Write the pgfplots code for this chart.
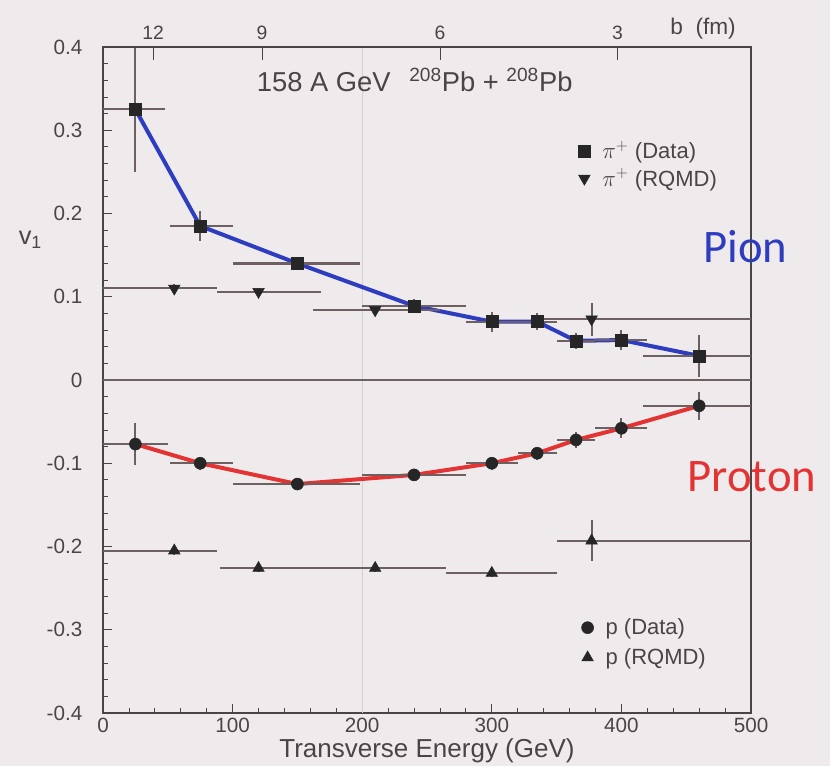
\documentclass[border=0pt]{standalone}
\usepackage{pgfplots}
\pgfplotsset{compat=1.18}
\usepackage{fontspec}
\setmainfont{Liberation Sans}
\newfontfamily\calib{Carlito}
\definecolor{bg}{HTML}{EFEBEC}
\definecolor{txt}{HTML}{4A4545}
\definecolor{ebar}{HTML}{6E6060}
\definecolor{pblue}{HTML}{2E3DC0}
\definecolor{pred}{HTML}{E33333}
\begin{document}
\begin{tikzpicture}
\useasboundingbox (-77.25pt,-39.75pt) rectangle (545.25pt,534.75pt);
\fill[bg] (-77.25pt,-39.75pt) rectangle (545.25pt,534.75pt);
\pgfplotsset{
  base/.style={
    scale only axis, width=486pt, height=499.5pt,
    xmin=0, xmax=500, ymin=-0.4, ymax=0.4, clip=false,
    /pgf/number format/assume math mode=true,
    tick label style={font=\fontsize{15.5}{17}\selectfont, text=txt},
    axis line style={txt, line width=0.9pt},
  },
  ebs/.style={error bars/.cd, x dir=both, x explicit, y dir=both, y explicit,
      error bar style={ebar, line width=1.6pt}, error mark=none},
}
% pion axis
\begin{axis}[base,
  xtick={0,100,...,500}, minor x tick num=4,
  ytick={-0.4,-0.3,...,0.41}, minor y tick num=4,
  yticklabels={-0.4,-0.3,-0.2,-0.1,0,0.1,0.2,0.3,0.4},
  major tick length=7pt, minor tick length=4pt,
  tick style={txt, line width=0.6pt},
  xtick pos=bottom, ytick pos=left,
  yticklabel style={anchor=east, xshift=-12pt},
  xlabel={Transverse Energy (GeV)},
  xlabel style={font=\fontsize{19.5}{21}\selectfont, text=txt, at={(rel axis cs:0.5,0)}, anchor=center, yshift=-28.5pt},
  legend style={draw=none, fill=none, at={(0.727,0.867)}, anchor=north west,
     font=\fontsize{16.5}{18}\selectfont, text=txt, row sep=2pt, column sep=7pt},
  legend cell align=left,
]
\draw[gray!35, line width=0.5pt] (axis cs:200,-0.4) -- (axis cs:200,0.4);
\draw[ebar, line width=2pt] (axis cs:0,0) -- (axis cs:500,0);
\addplot[pblue, line width=3pt, forget plot] coordinates {
(25,0.325) (75,0.185) (150,0.14) (240,0.089) (300,0.07) (335,0.07) (365,0.047) (400,0.048) (460,0.029)};
\addplot[only marks, mark=square*, mark size=4.5pt, black!85, ebs] coordinates {
(25,0.325) += (23,0.075) -= (25,0.075)
(75,0.185) += (25,0.018) -= (23,0.018)
(150,0.14) += (48,0.008) -= (50,0.008)
(240,0.089) += (40,0.008) -= (40,0.008)
(300,0.07) += (20,0.012) -= (20,0.012)
(335,0.07) += (15,0.01) -= (15,0.01)
(365,0.047) += (15,0.01) -= (15,0.01)
(400,0.048) += (20,0.012) -= (20,0.012)
(460,0.029) += (40,0.025) -= (43,0.025)
};
\addlegendentry{$\pi^{+}$ (Data)}
\addplot[only marks, mark=triangle*, mark options={rotate=180}, mark size=5pt, black!85, ebs] coordinates {
(55,0.11) += (33,0.005) -= (55,0.005)
(120,0.106) += (48,0.005) -= (32,0.005)
(210,0.084) += (50,0.006) -= (48,0.006)
(377,0.073) += (123,0.02) -= (37,0.02)
};
\addlegendentry{$\pi^{+}$ (RQMD)}
\node[text=txt, font=\fontsize{20.5}{22}\selectfont] at (rel axis cs:0.481,0.95) {158 A GeV\hspace{14pt}\textsuperscript{208}Pb + \textsuperscript{208}Pb};
\node[text=txt, font=\fontsize{19}{21}\selectfont] at (rel axis cs:-0.112,0.71) {v\textsubscript{1}};
\node[text=pblue, font=\calib\fontsize{35}{38}\selectfont] at (rel axis cs:0.991,0.70) {Pion};
\end{axis}
% proton axis
\begin{axis}[base, axis lines=none, 
  legend style={draw=none, fill=none, at={(0.732,0.15)}, anchor=north west,
     font=\fontsize{16.5}{18}\selectfont, text=txt, row sep=5pt, column sep=7pt},
  legend cell align=left,
]
\addplot[pred, line width=3pt, forget plot] coordinates {
(25,-0.077) (75,-0.1) (150,-0.125) (240,-0.114) (300,-0.1) (335,-0.088) (365,-0.072) (400,-0.058) (460,-0.031)};
\addplot[only marks, mark=*, mark size=4.5pt, black!85, ebs] coordinates {
(25,-0.077) += (25,0.025) -= (25,0.025)
(75,-0.1) += (25,0.008) -= (23,0.008)
(150,-0.125) += (48,0.006) -= (50,0.006)
(240,-0.114) += (40,0.006) -= (40,0.006)
(300,-0.1) += (20,0.008) -= (20,0.008)
(335,-0.088) += (15,0.008) -= (15,0.008)
(365,-0.072) += (15,0.01) -= (15,0.01)
(400,-0.058) += (20,0.012) -= (20,0.012)
(460,-0.031) += (40,0.017) -= (43,0.017)
};
\addlegendentry{p (Data)}
\addplot[only marks, mark=triangle*, mark size=5pt, black!85, ebs] coordinates {
(55,-0.205) += (33,0.005) -= (55,0.005)
(120,-0.226) += (45,0.005) -= (30,0.005)
(210,-0.226) += (55,0.005) -= (45,0.005)
(300,-0.232) += (50,0.005) -= (35,0.005)
(377,-0.193) += (123,0.025) -= (27,0.025)
};
\addlegendentry{p (RQMD)}
\node[text=pred, font=\calib\fontsize{35}{38}\selectfont] at (rel axis cs:1.0015,0.355) {Proton};
\end{axis}
% top b axis
\begin{axis}[base, axis x line*=top, axis y line=none,
  xtick={38.6,122.7,260,397}, xticklabels={12,9,6,3},
  major tick length=10pt, tick style={txt, line width=0.6pt},
  tick align=inside,
  xticklabel style={font=\fontsize{14.5}{16}\selectfont, yshift=2pt},
]
\node[text=txt, font=\fontsize{17}{19}\selectfont, anchor=base] at (rel axis cs:0.926,1.018) {b\ \ (fm)};
\end{axis}
\end{tikzpicture}
\end{document}
